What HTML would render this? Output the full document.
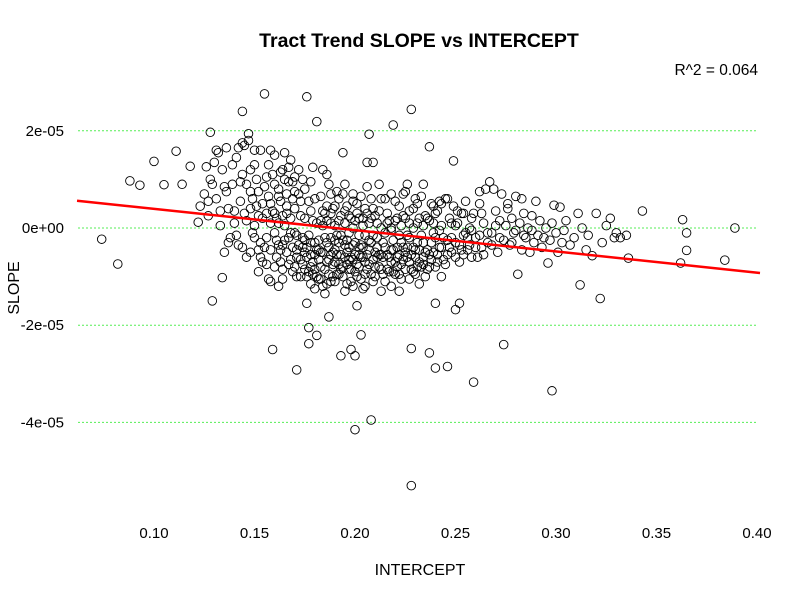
<!DOCTYPE html>
<html><head><meta charset="utf-8"><title>Tract Trend SLOPE vs INTERCEPT</title>
<style>
html,body{margin:0;padding:0;background:#fff;}
svg{display:block;font-family:"Liberation Sans",Arial,sans-serif;}
</style></head>
<body>
<svg id="chart" width="800" height="600" viewBox="0 0 800 600">
<text x="419" y="47" text-anchor="middle" font-size="19.5" font-weight="bold">Tract Trend SLOPE vs INTERCEPT</text>
<text x="758" y="75" text-anchor="end" font-size="15.5">R^2 = 0.064</text>
<text x="420" y="575" text-anchor="middle" font-size="16">INTERCEPT</text>
<text x="19" y="288" text-anchor="middle" font-size="16" transform="rotate(-90 19 288)">SLOPE</text>
<g id="grid"></g>
<g id="xticks"></g>
<g id="yticks"></g>
<g id="pts"></g>
<g id="fit"></g>
</svg>
<script>
const xTicks = [0.10, 0.15, 0.20, 0.25, 0.30, 0.35, 0.40];
const xTickLabels = ["0.10", "0.15", "0.20", "0.25", "0.30", "0.35", "0.40"];
const yTicks = [2, 0, -2, -4];
const yTickLabels = ["2e-05", "0e+00", "-2e-05", "-4e-05"];
const fitIntercept = 0.832;
const fitSlope = -4.38;
// [intercept, slope (x1e-5)]
const observations = [
[0.074,-0.23],[0.082,-0.74],[0.088,0.97],[0.093,0.88],[0.100,1.37],[0.105,0.89],[0.111,1.58],[0.114,0.9],[0.118,1.27],[0.122,0.12],
[0.126,1.26],[0.128,1.97],[0.129,-1.5],[0.134,-1.02],[0.135,-0.5],[0.155,2.76],[0.147,1.94],[0.144,2.4],[0.159,-2.5],[0.171,-2.92],
[0.176,2.7],[0.181,2.19],[0.177,-2.05],[0.176,-1.55],[0.177,-2.38],[0.181,-2.21],[0.187,-1.83],[0.193,-2.63],[0.198,-2.5],[0.200,-2.63],
[0.200,-4.15],[0.203,-2.2],[0.201,-1.6],[0.207,1.93],[0.208,-3.95],[0.219,2.12],[0.228,2.44],[0.228,-5.3],[0.228,-2.48],[0.237,1.67],
[0.237,-2.57],[0.240,-2.88],[0.240,-1.55],[0.246,-2.85],[0.249,1.38],[0.250,-1.68],[0.252,-1.55],[0.259,-3.17],[0.274,-2.4],[0.298,-3.35],
[0.312,-1.17],[0.322,-1.45],[0.343,0.35],[0.363,0.17],[0.365,-0.1],[0.365,-0.46],[0.389,0.0],[0.384,-0.66],[0.362,-0.72],[0.336,-0.62],
[0.318,-0.57],[0.330,-0.1],[0.335,-0.15],[0.329,-0.2],[0.320,0.3],[0.325,0.05],[0.311,0.3],[0.302,0.43],[0.299,0.47],[0.296,-0.72],
[0.123,0.45],[0.125,0.7],[0.127,0.25],[0.128,1.0],[0.130,1.35],[0.131,0.6],[0.132,1.55],[0.133,0.35],[0.134,1.2],[0.135,0.85],
[0.136,1.65],[0.137,0.4],[0.138,-0.2],[0.139,0.9],[0.140,0.1],[0.141,1.45],[0.142,-0.35],[0.143,0.55],[0.144,1.1],[0.145,0.3],
[0.146,-0.6],[0.147,1.8],[0.148,0.75],[0.149,-0.1],[0.150,1.3],[0.151,0.45],[0.152,-0.9],[0.153,1.6],[0.154,0.2],[0.155,-0.4],
[0.156,1.05],[0.157,0.65],[0.158,-1.1],[0.159,0.35],[0.160,1.5],[0.161,-0.25],[0.162,0.8],[0.163,-0.7],[0.164,1.2],[0.165,0.05],
[0.166,-0.5],[0.167,0.95],[0.168,1.4],[0.169,-0.9],[0.170,0.4],[0.171,-0.15],[0.172,0.7],[0.173,-1.0],[0.174,1.0],[0.175,0.2],
[0.176,-0.6],[0.177,0.55],[0.178,-0.3],[0.179,1.25],[0.180,-0.85],[0.181,0.1],[0.182,-0.45],[0.183,0.65],[0.184,-1.2],[0.185,0.3],
[0.186,-0.7],[0.187,0.9],[0.188,-0.2],[0.189,-1.0],[0.190,0.45],[0.191,-0.55],[0.192,0.15],[0.193,-0.85],[0.194,0.7],[0.195,-0.35],
[0.196,-1.15],[0.197,0.25],[0.198,-0.6],[0.199,0.0],[0.200,-0.9],[0.201,0.5],[0.202,-0.4],[0.203,-1.05],[0.204,0.2],[0.205,-0.7],
[0.206,0.85],[0.207,-0.25],[0.208,-0.95],[0.209,0.4],[0.210,-0.5],[0.211,0.1],[0.212,-0.8],[0.213,0.6],[0.214,-0.3],[0.215,-1.1],
[0.216,0.3],[0.217,-0.6],[0.218,0.0],[0.219,-0.9],[0.220,0.55],[0.221,-0.4],[0.222,-0.15],[0.223,-0.75],[0.224,0.25],[0.225,-0.5],
[0.226,0.9],[0.227,-0.2],[0.228,-0.85],[0.229,0.4],[0.230,-0.45],[0.231,0.1],[0.232,-0.7],[0.233,0.65],[0.234,-0.3],[0.235,-1.0],
[0.236,0.2],[0.237,-0.55],[0.238,0.5],[0.239,-0.1],[0.240,-0.8],[0.241,0.35],[0.242,-0.4],[0.243,0.05],[0.244,-0.65],[0.245,0.6],
[0.246,-0.25],[0.247,0.2],[0.248,-0.5],[0.249,0.45],[0.250,-0.3],[0.251,0.1],[0.252,-0.7],[0.253,0.3],[0.254,-0.15],[0.255,0.55],
[0.256,-0.45],[0.257,0.0],[0.258,-0.6],[0.259,0.3],[0.260,-0.2],[0.262,0.5],[0.263,-0.4],[0.264,0.1],[0.265,0.8],[0.266,-0.3],
[0.267,0.95],[0.268,-0.1],[0.270,0.35],[0.271,-0.5],[0.272,0.15],[0.273,0.7],[0.274,-0.25],[0.275,0.05],[0.276,0.4],[0.277,-0.35],
[0.278,0.2],[0.279,-0.1],[0.280,0.65],[0.281,-0.95],[0.282,0.1],[0.283,-0.45],[0.284,0.3],[0.285,-0.2],[0.286,0.0],[0.287,-0.5],
[0.288,0.25],[0.289,-0.3],[0.290,0.55],[0.291,-0.15],[0.292,0.15],[0.293,-0.4],[0.295,0.0],[0.297,-0.25],[0.300,-0.1],[0.303,-0.3],
[0.305,0.15],[0.307,-0.35],[0.309,-0.2],[0.313,0.0],[0.315,-0.45],[0.316,-0.15],[0.323,-0.3],[0.327,0.2],[0.332,-0.2],[0.301,-0.5],
[0.140,0.35],[0.142,1.65],[0.143,0.95],[0.145,1.7],[0.146,0.15],[0.148,1.2],[0.149,0.6],[0.151,1.0],[0.152,0.25],[0.153,-0.3],
[0.155,0.85],[0.156,-0.75],[0.158,0.5],[0.159,1.1],[0.161,0.2],[0.162,-1.2],[0.163,0.55],[0.165,1.0],[0.166,0.3],[0.167,-0.2],
[0.169,0.6],[0.170,1.05],[0.171,-0.6],[0.173,0.25],[0.174,-0.4],[0.175,0.8],[0.176,-1.0],[0.178,0.35],[0.179,-0.7],[0.180,0.6],
[0.182,-1.05],[0.183,0.15],[0.184,-0.5],[0.186,0.45],[0.187,-0.95],[0.188,0.1],[0.190,-0.7],[0.191,0.75],[0.192,-0.3],[0.194,-1.0],
[0.195,0.35],[0.196,-0.5],[0.197,-0.85],[0.199,0.55],[0.200,-0.3],[0.201,-0.75],[0.202,0.2],[0.204,-0.6],[0.205,-1.2],[0.206,0.3],
[0.207,-0.45],[0.208,0.6],[0.210,-0.8],[0.211,-0.2],[0.212,0.35],[0.213,-0.55],[0.215,-0.1],[0.216,-0.85],[0.217,0.15],[0.218,-0.45],
[0.220,-0.7],[0.221,0.2],[0.222,-0.95],[0.223,-0.3],[0.224,0.7],[0.226,-0.6],[0.227,0.1],[0.229,-0.4],[0.230,-0.95],[0.231,0.5],
[0.233,-0.15],[0.234,-0.6],[0.235,0.25],[0.236,-0.85],[0.238,-0.3],[0.239,0.1],[0.241,-0.55],[0.242,0.55],[0.244,-0.2],[0.245,-0.75],
[0.247,-0.4],[0.248,0.1],[0.250,-0.6],[0.251,0.35],[0.253,-0.45],[0.255,-0.1],[0.257,-0.35],[0.258,0.2],[0.261,-0.6],[0.263,0.3],
[0.185,-0.2],[0.189,-0.5],[0.193,-0.15],[0.197,-0.4],[0.199,-0.65],[0.203,-0.35],[0.206,-0.85],[0.209,-0.15],[0.211,-0.6],[0.214,-0.95],
[0.181,-0.45],[0.183,-0.8],[0.186,-1.15],[0.188,-0.55],[0.191,-0.95],[0.194,-0.25],[0.196,-0.75],[0.198,-1.1],[0.202,-0.55],[0.205,-0.15],
[0.172,-0.35],[0.174,-0.75],[0.177,-0.15],[0.179,-0.95],[0.180,-0.3],[0.182,-0.65],[0.184,0.35],[0.187,-0.4],[0.190,-0.25],[0.192,-0.75],
[0.219,-0.25],[0.221,-0.6],[0.224,-0.4],[0.226,-0.15],[0.228,-0.55],[0.231,-0.3],[0.233,-0.8],[0.236,-0.45],[0.238,-0.65],[0.240,-0.2],
[0.160,0.3],[0.162,0.65],[0.164,-0.35],[0.166,0.45],[0.168,-0.1],[0.170,-0.8],[0.173,0.55],[0.175,-0.25],[0.178,-0.55],[0.179,0.15],
[0.157,1.3],[0.160,0.9],[0.163,1.15],[0.167,1.25],[0.170,0.75],[0.172,1.2],[0.184,1.2],[0.186,1.1],[0.188,0.7],[0.192,0.6],
[0.195,0.9],[0.199,0.7],[0.203,0.65],[0.206,1.35],[0.209,1.35],[0.212,0.9],[0.215,0.6],[0.218,0.7],[0.222,0.45],[0.225,0.75],
[0.230,0.6],[0.234,0.9],[0.239,0.45],[0.243,0.5],[0.246,0.6],[0.254,0.3],[0.262,0.75],[0.269,0.8],[0.276,0.5],[0.283,0.6],
[0.194,1.55],[0.189,0.4],[0.178,0.95],[0.165,1.55],[0.158,1.6],[0.150,1.6],[0.144,1.75],[0.139,1.3],[0.136,0.75],[0.131,1.6],
[0.129,0.9],[0.127,0.55],[0.133,0.05],[0.137,-0.3],[0.141,-0.15],[0.144,-0.4],[0.148,-0.5],[0.150,-0.2],[0.153,-0.6],[0.157,-1.05],
[0.161,-0.6],[0.164,-0.85],[0.168,-0.65],[0.171,-1.0],[0.175,-0.85],[0.178,-1.15],[0.180,-1.25],[0.183,-1.05],[0.185,-1.35],[0.190,-1.1],
[0.195,-1.3],[0.199,-1.2],[0.204,-1.25],[0.209,-1.1],[0.213,-1.3],[0.218,-1.2],[0.222,-1.3],[0.227,-1.05],[0.232,-1.15],[0.243,-1.0],
[0.195,0.1],[0.197,-0.1],[0.200,0.15],[0.202,-0.15],[0.204,0.05],[0.207,0.1],[0.210,0.25],[0.213,0.0],[0.216,0.1],[0.218,-0.05],
[0.220,0.15],[0.223,0.05],[0.225,0.2],[0.227,0.35],[0.229,0.0],[0.232,0.2],[0.234,0.05],[0.237,0.15],[0.240,0.3],[0.242,-0.05],
[0.176,-0.4],[0.178,-0.8],[0.180,-0.55],[0.181,-1.0],[0.182,-0.25],[0.183,-0.5],[0.185,-0.85],[0.186,-0.3],[0.187,-0.65],[0.188,-1.1],
[0.189,-0.75],[0.190,-0.45],[0.191,-0.15],[0.192,-0.95],[0.193,-0.55],[0.194,-0.8],[0.195,-0.6],[0.196,-0.25],[0.197,-0.65],[0.198,-0.85],
[0.199,-0.35],[0.200,-0.55],[0.201,-1.0],[0.202,-0.8],[0.203,-0.6],[0.204,-0.4],[0.205,-0.95],[0.206,-0.55],[0.207,-0.75],[0.208,-0.3],
[0.209,-0.65],[0.210,-1.0],[0.211,-0.4],[0.212,-0.55],[0.213,-0.85],[0.214,-0.6],[0.215,-0.4],[0.216,-0.55],[0.217,-0.9],[0.218,-0.7],
[0.219,-0.45],[0.220,-0.95],[0.221,-0.8],[0.222,-0.55],[0.223,-1.05],[0.224,-0.65],[0.225,-0.85],[0.226,-0.4],[0.227,-0.7],[0.229,-0.9],
[0.230,-0.6],[0.231,-0.8],[0.232,-0.45],[0.234,-0.75],[0.235,-0.5],[0.237,-0.8],[0.239,-0.5],[0.241,-0.7],[0.243,-0.4],[0.246,-0.55],
[0.171,-0.45],[0.173,-0.65],[0.174,-0.2],[0.175,-0.5],[0.177,-0.9],[0.169,-0.4],[0.167,-0.75],[0.165,-0.25],[0.163,-0.45],[0.170,-0.1],
[0.184,0.05],[0.186,0.15],[0.188,0.3],[0.190,0.05],[0.193,0.25],[0.196,0.45],[0.198,0.2],[0.201,0.3],[0.205,0.4],[0.208,0.2],
[0.152,0.75],[0.154,0.5],[0.156,0.3],[0.158,0.1],[0.160,-0.1],[0.162,0.1],[0.164,0.25],[0.166,0.7],[0.168,0.2],[0.169,0.95],
[0.146,0.9],[0.148,0.4],[0.150,0.05],[0.152,-0.45],[0.154,-0.7],[0.156,-0.2],[0.158,-0.45],[0.160,-0.8],[0.162,-0.35],[0.164,-1.05],
[0.248,-0.2],[0.250,0.05],[0.252,-0.35],[0.254,-0.55],[0.256,-0.2],[0.258,-0.05],[0.260,-0.4],[0.262,-0.15],[0.264,-0.55],[0.266,-0.1],
[0.268,-0.35],[0.270,0.05],[0.272,-0.2],[0.278,-0.3],[0.280,-0.05],[0.284,-0.15],[0.288,-0.05],[0.294,-0.2],[0.298,0.1],[0.304,-0.05]
];

const W = 800, H = 600;
const xMin = 0.0617, xMax = 0.4015;
const pxL = 78, pxR = 760;
function xs(v){ return 154 + (v - 0.10) * 2010; }
function ys(v){ return 228 - v * 48.6; }
const NS = "http://www.w3.org/2000/svg";
function mk(tag, attrs, parent){
  const e = document.createElementNS(NS, tag);
  for (const k in attrs) e.setAttribute(k, attrs[k]);
  parent.appendChild(e);
  return e;
}
const grid = document.getElementById('grid');
const xg = document.getElementById('xticks');
const yg = document.getElementById('yticks');
yTicks.forEach((t, i) => {
  const y = ys(t);
  const gl = mk('line', {x1: pxL, x2: 758, y1: y, y2: y, stroke: '#55ee55', 'stroke-width': 1, 'stroke-dasharray': '2,2'}, grid);
  
  
  const lb = mk('text', {x: 64, y: y + 5, 'text-anchor': 'end', 'font-size': 15}, yg);
  lb.textContent = yTickLabels[i];
  
  
});
xTicks.forEach((t, i) => {
  const lb = mk('text', {x: xs(t), y: 538, 'text-anchor': 'middle', 'font-size': 15}, xg);
  lb.textContent = xTickLabels[i];
  
  
});
const pg = document.getElementById('pts');
observations.forEach(p => {
  const c = mk('circle', {cx: xs(p[0]).toFixed(1), cy: ys(p[1]).toFixed(1), r: 4.3, fill: 'none', stroke: '#000', 'stroke-width': 0.9}, pg);
  
  
});
const fg = document.getElementById('fit');
const ln = mk('line', {x1: xs(xMin), y1: ys(fitIntercept + fitSlope * xMin), x2: xs(xMax), y2: ys(fitIntercept + fitSlope * xMax), stroke: '#ff0000', 'stroke-width': 2.5}, fg);


</script>
</body></html>
